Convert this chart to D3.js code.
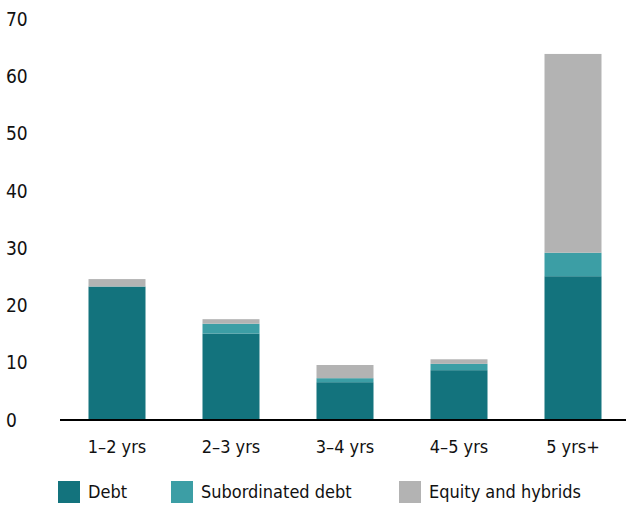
<!DOCTYPE html>
<html>
<head>
<meta charset="utf-8">
<script src="https://cdn.jsdelivr.net/npm/d3@7"></script>
<style>
  body { margin: 0; background: #fff; }
  text { font-family: "DejaVu Sans Condensed", "DejaVu Sans", sans-serif; fill: #111; }
</style>
</head>
<body>
<script>
var categories = ["1\u20132 yrs", "2\u20133 yrs", "3\u20134 yrs", "4\u20135 yrs", "5 yrs+"];
var debt = [23.3, 15.1, 6.6, 8.7, 25.1];
var subDebt = [0, 1.7, 0.7, 1.1, 4.1];
var equity = [1.3, 0.8, 2.3, 0.8, 34.7];
var yTicks = [0, 10, 20, 30, 40, 50, 60, 70];
var seriesNames = ["Debt", "Subordinated debt", "Equity and hybrids"];
var colors = ["#13737d", "#3c9ea5", "#b3b3b3"];

var width = 626, height = 506;
var svg = d3.select("body").append("svg").attr("width", width).attr("height", height);

var rows = categories.map(function(c, i){
	return { cat: c, Debt: debt[i], "Subordinated debt": subDebt[i], "Equity and hybrids": equity[i] };
});
var stacked = d3.stack().keys(seriesNames)(rows);

var x = d3.scaleBand().domain(categories).range([60, 630]).paddingInner(0.5).paddingOuter(0.25);
var y = d3.scaleLinear().domain([0, 70]).range([420, 19]);

// y labels, left aligned, no tick lines
svg.append("g").selectAll("text")
	.data(yTicks)
	.enter()
	.append("text")
	.attr("x", 6)
	.attr("y", function(d){ return y(d); })
	.attr("dy", "0.35em")
	.style("font-size", "19px")
	.text(function(d){ return d; });

svg.append("g").selectAll("g")
	.data(stacked)
	.enter()
	.append("g")
	.style("fill", function(d, i){ return colors[i]; })
	.selectAll("rect")
	.data(function(d){ return d; })
	.enter()
	.append("rect")
	.attr("x", function(d){ return x(d.data.cat); })
	.attr("width", x.bandwidth())
	.attr("y", function(d){ return y(d[1]); })
	.attr("height", function(d){ return y(d[0]) - y(d[1]); });

var xAxis = d3.axisBottom(x).tickSize(0).tickPadding(20);
var xAxisGroup = svg.append("g").attr("transform", "translate(0,420)").call(xAxis);
xAxisGroup.select(".domain").remove();
xAxisGroup.selectAll("text").style("font-size", "18px").style("font-family", null);
xAxisGroup.attr("font-family", null);

svg.append("line")
	.attr("x1", 60).attr("x2", 626)
	.attr("y1", y(0)).attr("y2", y(0))
	.style("stroke", "#000").style("stroke-width", 2);

var legendX = [58, 171, 399];
var legend = svg.append("g").selectAll("g")
	.data(seriesNames)
	.enter()
	.append("g")
	.attr("transform", function(d, i){ return "translate(" + legendX[i] + ",481)"; });
legend.append("rect").attr("width", 22).attr("height", 22)
	.style("fill", function(d, i){ return colors[i]; });
legend.append("text").attr("x", 30).attr("y", 11).attr("dy", "0.35em")
	.style("font-size", "18px")
	.text(function(d){ return d; });
</script>
</body>
</html>
